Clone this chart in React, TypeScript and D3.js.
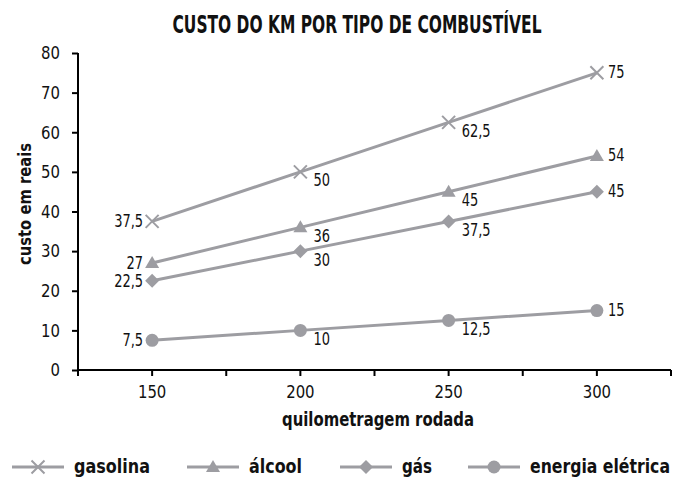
import React, { useEffect, useRef } from 'react';
import * as d3 from 'd3';

const kms = [150, 200, 250, 300];
const seriesNames = ['gasolina', 'álcool', 'gás', 'energia elétrica'];
const gasolina = [37.5, 50, 62.5, 75];
const alcool = [27, 36, 45, 54];
const gas = [22.5, 30, 37.5, 45];
const energia = [7.5, 10, 12.5, 15];
const yTicks = [0, 10, 20, 30, 40, 50, 60, 70, 80];
const xTicks = [125, 150, 175, 200, 225, 250, 275, 300, 325];

const symbols = ['cross', 'triangle', 'diamond', 'circle'];
const fontFam = "'DejaVu Sans Condensed', 'DejaVu Sans', sans-serif";
const grey = '#9d9da2';

const fmt = (v: number) => String(v).replace('.', ',');

type G = d3.Selection<SVGGElement, unknown, null, undefined>;

// squeeze a text element horizontally, to a width or by a factor
const squeeze = (node: SVGTextElement, target?: number, factor = 0.85) => {
  const len = node.getComputedTextLength();
  node.setAttribute('textLength', String(target ?? len * factor));
  node.setAttribute('lengthAdjust', 'spacingAndGlyphs');
};

const App: React.FC = () => {
  const ref = useRef<SVGSVGElement>(null);
  const width = 675;
  const height = 478;

  useEffect(() => {
    if (!ref.current) return;
    const svg = d3.select(ref.current);
    svg.selectAll('*').remove();

    const margin = { top: 53, right: 4, bottom: 108, left: 78 };
    const w = width - margin.left - margin.right;
    const h = height - margin.top - margin.bottom;
    const allSeries = [gasolina, alcool, gas, energia];

    const x = d3.scaleLinear().domain([125, 325]).range([0, w]);
    const y = d3.scaleLinear().domain([0, 80]).range([h, 0]);

    const title = svg
      .append('text')
      .attr('x', 357)
      .attr('y', 33)
      .attr('text-anchor', 'middle')
      .attr('font-family', fontFam)
      .attr('font-weight', 'bold')
      .attr('font-size', 25)
      .attr('fill', '#111')
      .text('CUSTO DO KM POR TIPO DE COMBUSTÍVEL');
    squeeze(title.node() as SVGTextElement, 369);

    const g = svg
      .append('g')
      .attr('transform', `translate(${margin.left},${margin.top})`);

    // y axis
    const yAxis = g
      .append('g')
      .call(d3.axisLeft(y).tickValues(yTicks).tickSize(6).tickPadding(12));
    yAxis.select('.domain').attr('stroke-width', 2).attr('d', `M0,0V${h + 6}`);
    yAxis.selectAll('.tick line').attr('stroke-width', 2);
    yAxis
      .selectAll<SVGTextElement, number>('text')
      .attr('font-family', fontFam)
      .attr('font-size', 18)
      .attr('fill', '#111')
      .each(function () {
        squeeze(this, undefined, 0.92);
      });

    // x axis: ticks every 25 km, labels on the categories
    const xAxis = g.append('g').attr('transform', `translate(0,${h})`);
    xAxis
      .append('line')
      .attr('x1', 0)
      .attr('x2', w)
      .attr('stroke', '#000')
      .attr('stroke-width', 2);
    xAxis
      .selectAll('line.tk')
      .data(xTicks)
      .enter()
      .append('line')
      .attr('class', 'tk')
      .attr('x1', d => x(d))
      .attr('x2', d => x(d))
      .attr('y1', 0)
      .attr('y2', 6)
      .attr('stroke', '#000')
      .attr('stroke-width', 2);
    xAxis
      .selectAll<SVGTextElement, number>('text')
      .data(kms)
      .enter()
      .append('text')
      .attr('x', d => x(d))
      .attr('y', 28)
      .attr('text-anchor', 'middle')
      .attr('font-family', fontFam)
      .attr('font-size', 18)
      .attr('fill', '#111')
      .text(d => String(d))
      .each(function () {
        squeeze(this, undefined, 0.92);
      });

    const xTitle = svg
      .append('text')
      .attr('x', 378)
      .attr('y', 426)
      .attr('text-anchor', 'middle')
      .attr('font-family', fontFam)
      .attr('font-weight', 'bold')
      .attr('font-size', 19)
      .attr('fill', '#111')
      .text('quilometragem rodada');
    squeeze(xTitle.node() as SVGTextElement, 192);

    const yTitle = svg
      .append('text')
      .attr('transform', 'translate(31,204) rotate(-90)')
      .attr('text-anchor', 'middle')
      .attr('font-family', fontFam)
      .attr('font-weight', 'bold')
      .attr('font-size', 18)
      .attr('fill', '#111')
      .text('custo em reais');
    squeeze(yTitle.node() as SVGTextElement, 122);

    const drawMarker = (sel: G, kind: string, px: number, py: number) => {
      if (kind === 'cross') {
        sel
          .append('path')
          .attr(
            'd',
            `M${px - 6.5},${py - 6.5}L${px + 6.5},${py + 6.5}M${px - 6.5},${py + 6.5}L${px + 6.5},${py - 6.5}`,
          )
          .attr('stroke', grey)
          .attr('stroke-width', 2)
          .attr('fill', 'none');
      } else if (kind === 'triangle') {
        sel
          .append('path')
          .attr('d', `M${px},${py - 7}L${px + 7},${py + 5}L${px - 7},${py + 5}Z`)
          .attr('fill', grey);
      } else if (kind === 'diamond') {
        sel
          .append('path')
          .attr('d', `M${px},${py - 7}L${px + 7},${py}L${px},${py + 7}L${px - 7},${py}Z`)
          .attr('fill', grey);
      } else {
        sel.append('circle').attr('cx', px).attr('cy', py).attr('r', 6.5).attr('fill', grey);
      }
    };

    const line = d3
      .line<number>()
      .x((_, i) => x(kms[i]))
      .y(d => y(d));

    allSeries.forEach((vals, si) => {
      const sg = g.append('g');
      sg.append('path')
        .datum(vals)
        .attr('fill', 'none')
        .attr('stroke', grey)
        .attr('stroke-width', 3)
        .attr('d', line);
      vals.forEach((v, i) => {
        const px = x(kms[i]);
        const py = y(v);
        drawMarker(sg, symbols[si], px, py);
        const lbl = sg
          .append('text')
          .attr('font-family', fontFam)
          .attr('font-size', 17)
          .attr('fill', '#111')
          .attr('dy', '0.35em')
          .text(fmt(v));
        if (i === 0) {
          lbl.attr('x', px - 9).attr('y', py).attr('text-anchor', 'end');
        } else if (i === vals.length - 1) {
          lbl.attr('x', px + 11).attr('y', py - 1);
        } else {
          lbl.attr('x', px + 13).attr('y', py + 8.5);
        }
        squeeze(lbl.node() as SVGTextElement, undefined, 0.85);
      });
    });

    // legend
    const legendX = [12, 187, 340, 468];
    const legendW = [76, 53, 30, 140];
    const leg = svg.append('g').attr('transform', 'translate(0,467)') as unknown as G;
    seriesNames.forEach((name, si) => {
      const lx = legendX[si];
      const lg = leg.append('g') as unknown as G;
      lg.append('line')
        .attr('x1', lx)
        .attr('x2', lx + 52)
        .attr('y1', 0)
        .attr('y2', 0)
        .attr('stroke', grey)
        .attr('stroke-width', 3);
      drawMarker(lg, symbols[si], lx + 26, 0);
      const t = lg
        .append('text')
        .attr('x', lx + 62)
        .attr('y', 0)
        .attr('dy', '0.33em')
        .attr('font-family', fontFam)
        .attr('font-weight', 'bold')
        .attr('font-size', 19)
        .attr('fill', '#111')
        .text(name);
      squeeze(t.node() as SVGTextElement, legendW[si]);
    });
  }, []);

  return (
    <svg
      ref={ref}
      width={width}
      height={height}
      style={{ position: 'absolute', left: 0, top: 0, background: '#fff' }}
    />
  );
};

export default App;
